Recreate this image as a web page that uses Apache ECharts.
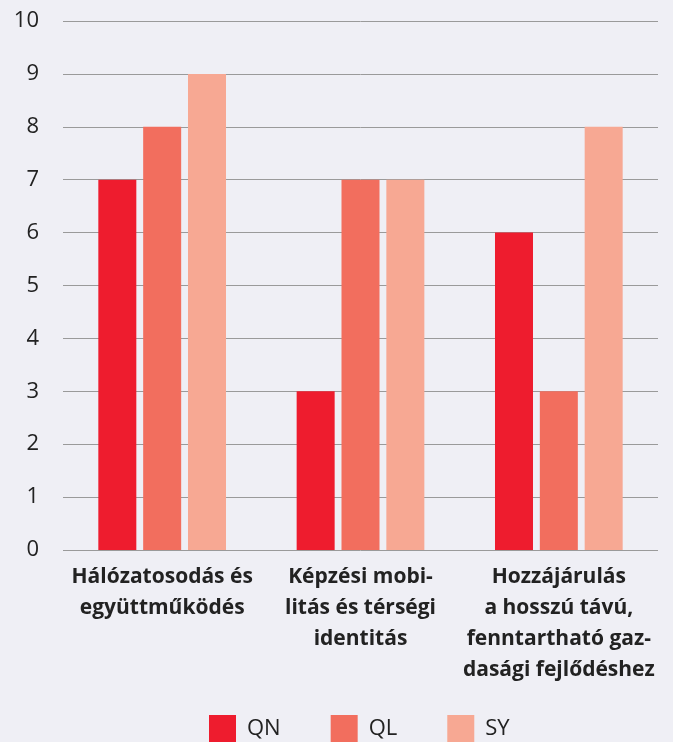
<!DOCTYPE html>
<html><head><meta charset="utf-8">
<script src="https://cdn.jsdelivr.net/npm/echarts@6/dist/echarts.min.js"></script>
<style>html,body{margin:0;padding:0;background:#efeff5;}#c{width:673px;height:742px;}</style>
</head><body><div id="c"></div>
<script>
const categories = ["Hálózatosodás és\negyüttműködés", "Képzési mobi-\nlitás és térségi\nidentitás", "Hozzájárulás\na hosszú távú,\nfenntartható gaz-\ndasági fejlődéshez"];
const seriesNames = ["QN", "QL", "SY"];
const qn = [7, 3, 6];
const ql = [8, 7, 3];
const sy = [9, 7, 8];
const colors = ["#ee1c2e", "#f26e5e", "#f7a893"];
const font = "'Open Sans', sans-serif";
const chart = echarts.init(document.getElementById('c'));
chart.setOption({
  backgroundColor: '#efeff5',
  animation: false,
  textStyle: {fontFamily: font},
  grid: {left: 63, right: 15, top: 21, bottom: 192, containLabel: false},
  legend: {
    bottom: 0, left: 209, padding: 0, itemWidth: 27, itemHeight: 27, itemGap: 50,
    icon: 'rect',
    textStyle: {fontSize: 22, color: '#222', fontFamily: font, padding: [0,0,0,6]},
    data: seriesNames
  },
  xAxis: {
    type: 'category', data: categories,
    axisLine: {show: false}, axisTick: {show: false},
    axisLabel: {interval: 0, fontSize: 21, fontWeight: 'bold', color: '#222', lineHeight: 31, margin: 12, fontFamily: font}
  },
  yAxis: {
    type: 'value', min: 0, max: 10, interval: 1,
    axisLine: {show: false}, axisTick: {show: false},
    splitLine: {lineStyle: {color: '#9a9a9a', width: 1}},
    axisLabel: {fontSize: 22, color: '#222', margin: 24, fontFamily: font}
  },
  series: [
    {name: seriesNames[0], type: 'bar', data: qn, barWidth: 38, barGap: '18%', itemStyle: {color: colors[0]}},
    {name: seriesNames[1], type: 'bar', data: ql, barWidth: 38, barGap: '18%', itemStyle: {color: colors[1]}},
    {name: seriesNames[2], type: 'bar', data: sy, barWidth: 38, barGap: '18%', itemStyle: {color: colors[2]}}
  ]
});
</script></body></html>
